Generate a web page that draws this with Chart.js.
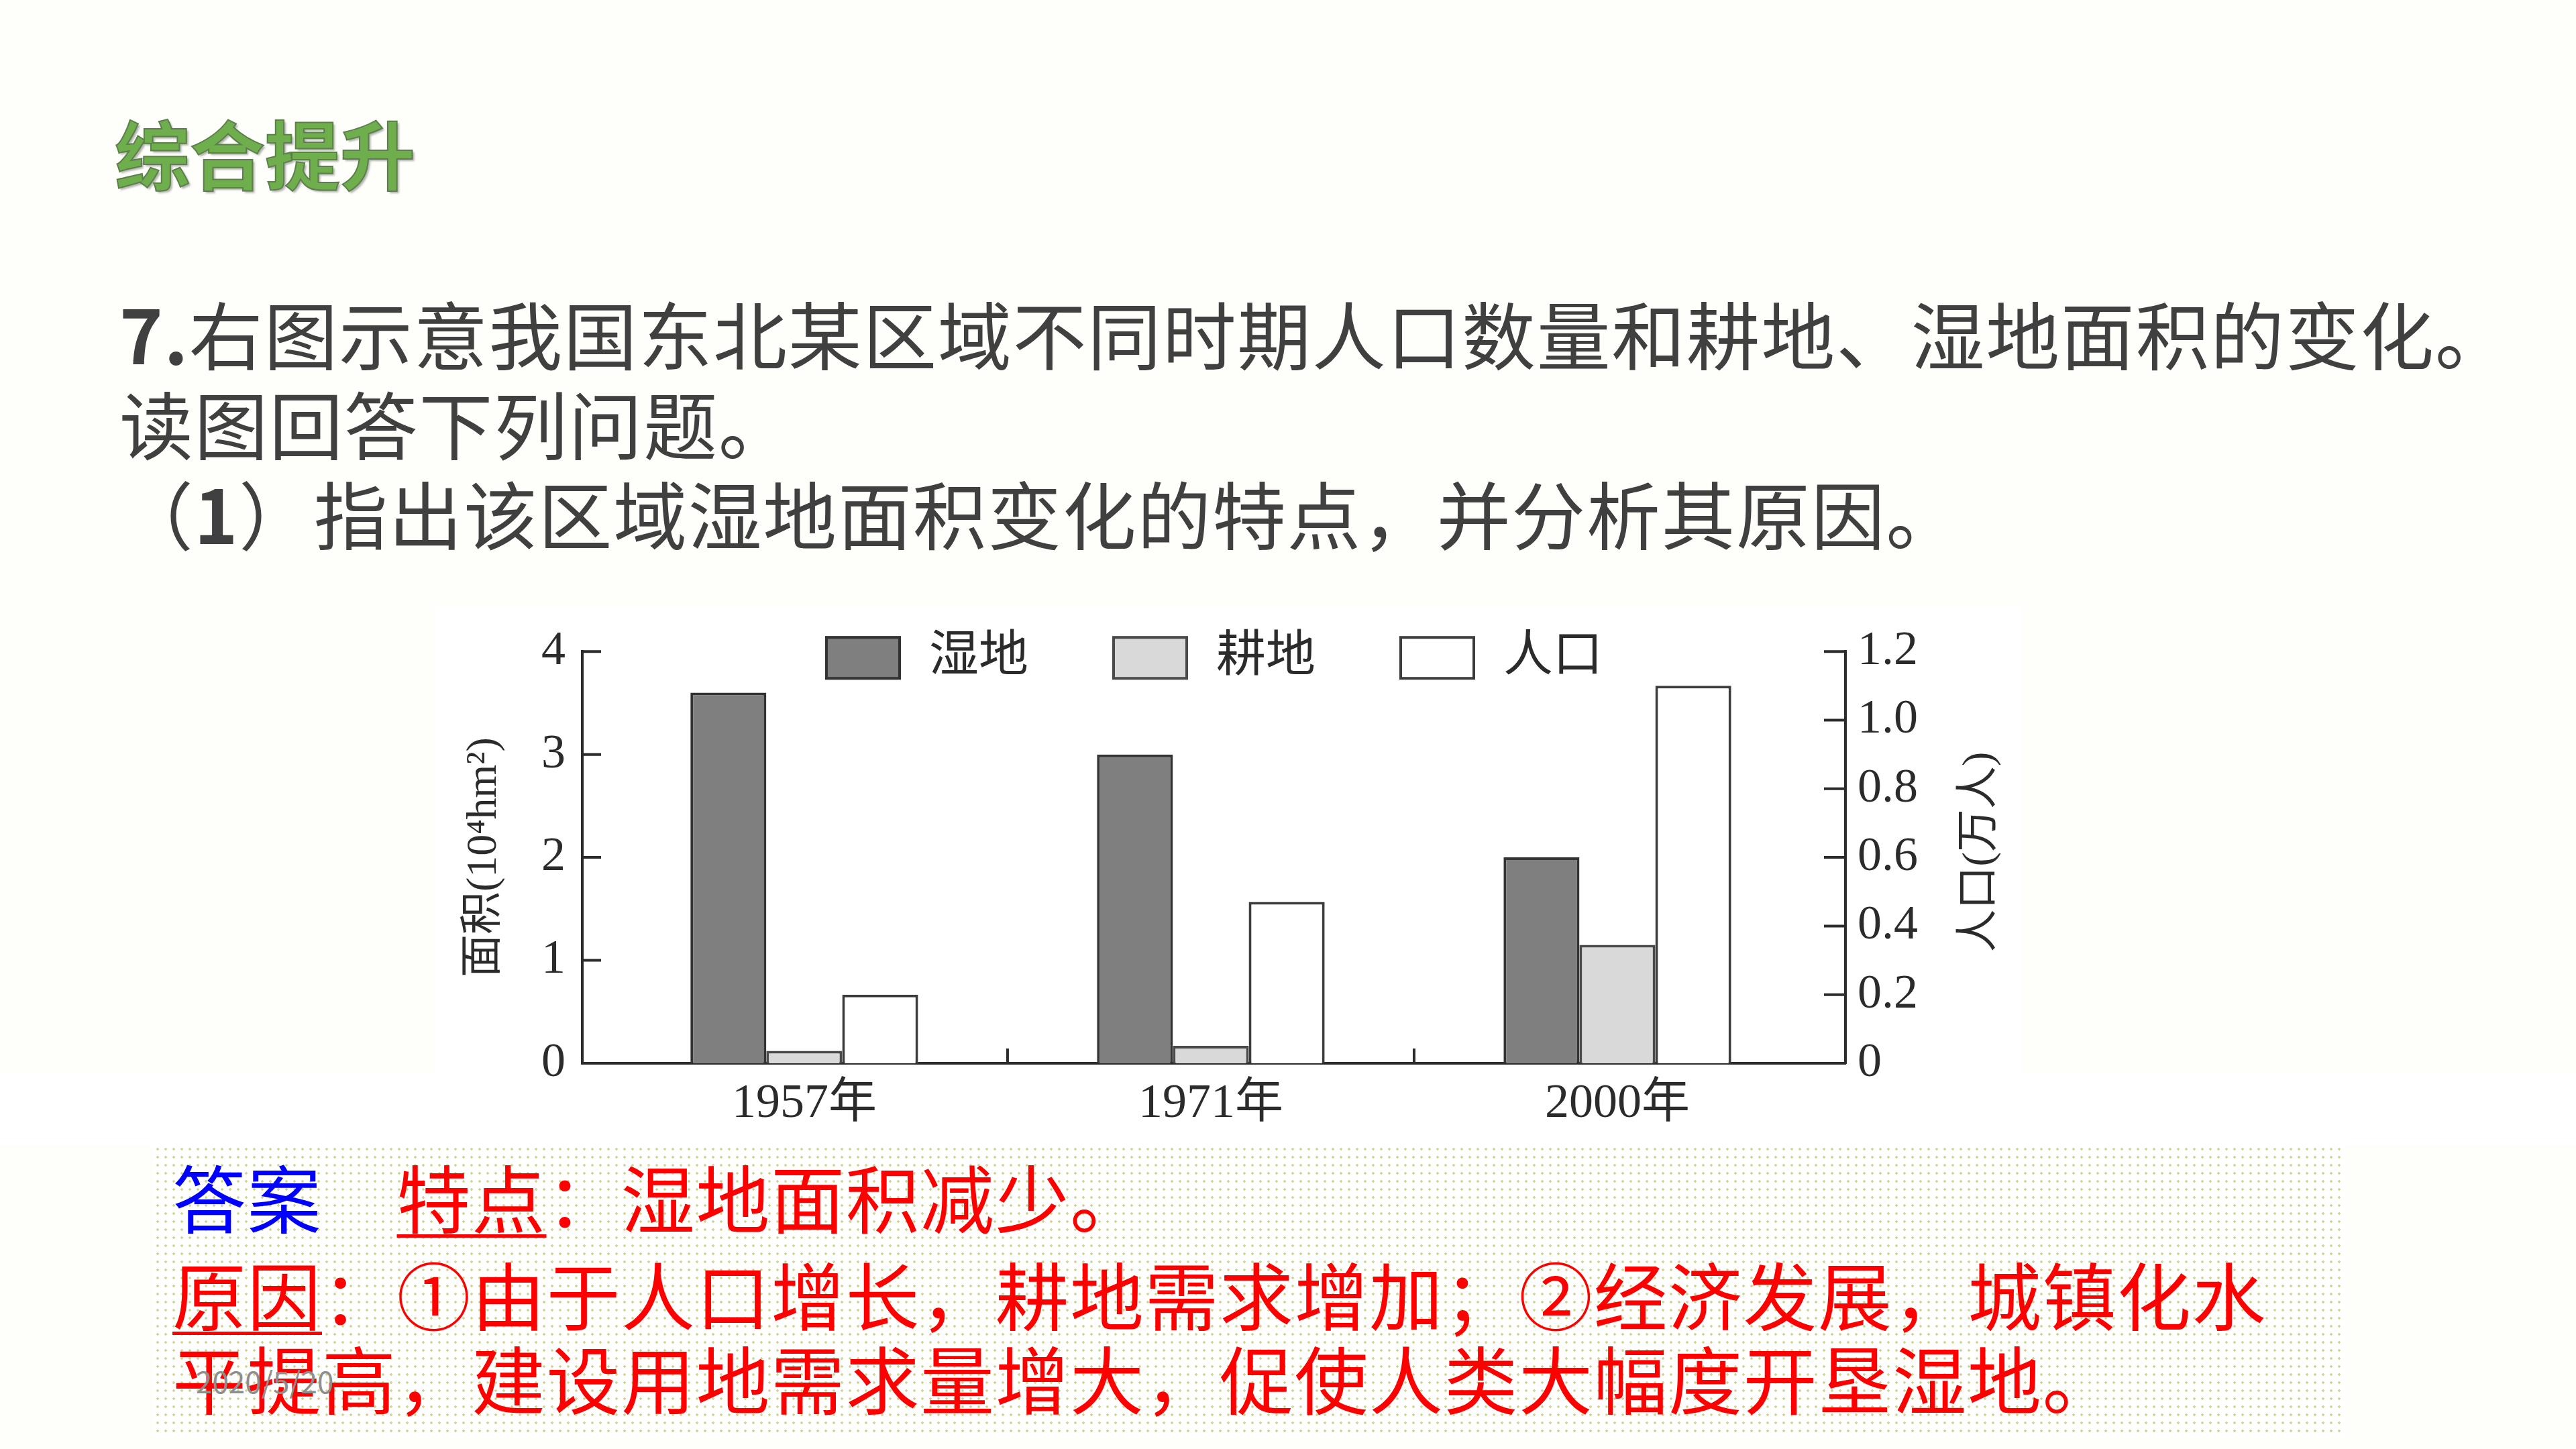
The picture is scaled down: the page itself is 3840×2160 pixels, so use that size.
<!DOCTYPE html>
<html lang="zh-CN">
<head>
<meta charset="utf-8">
<title>综合提升</title>
<script src="https://cdn.jsdelivr.net/npm/chart.js@4.4.1/dist/chart.umd.min.js"></script>
<style>
  html, body { margin: 0; padding: 0; }
  body {
    width: 3840px; height: 2160px; position: relative; overflow: hidden;
    background: #fefefa; font-family: "Noto Sans CJK SC", sans-serif;
  }
  .abs { position: absolute; white-space: nowrap; line-height: 1; }
  #heading {
    left: 171px; top: 170px; font-size: 112px; font-weight: 700; color: #6fae4c;
    -webkit-text-stroke: 2px #5d7f4c; text-shadow: 3px 3px 3px rgba(60,60,60,.4);
  }
  .q { left: 178px; font-size: 110px; color: #404040; letter-spacing: 1.6px; }
  #chartBox { left: 647px; top: 903px; width: 2366px; height: 697px; background: #fff; }
  #band { left: 0; top: 1600px; width: 3840px; height: 107px; background: #fff; }
  #answer {
    left: 229px; top: 1707px; width: 3267px; height: 436px; background-color: #fff;
    background-image: radial-gradient(#cfd58f 1.5px, transparent 2px);
    background-size: 12px 12px;
  }
  .a { left: 257px; font-size: 110px; color: #ff0000; letter-spacing: 1.5px; }
  .u { text-decoration: underline; text-decoration-thickness: 5px; text-underline-offset: 10px; }
  #date { left: 292px; top: 2036px; font-size: 44px; color: #8e8e8e; }
  #chart { position: absolute; left: 647px; top: 903px; }
</style>
</head>
<body>
<div class="abs" id="heading">综合提升</div>
<div class="abs q" style="top:440px"><b>7.</b>右图示意我国东北某区域不同时期人口数量和耕地、湿地面积的变化。</div>
<div class="abs q" style="top:574px">读图回答下列问题。</div>
<div class="abs q" style="top:708px">（<b>1</b>）指出该区域湿地面积变化的特点，并分析其原因。</div>

<div class="abs" id="chartBox"></div>
<div class="abs" id="band"></div>
<div class="abs" id="answer"></div>

<canvas id="chart" width="2366" height="797"></canvas>

<div class="abs a" style="top:1727px"><span style="color:#0000ff">答案</span>　<span class="u">特点</span>：湿地面积减少。</div>
<div class="abs a" style="top:1872px"><span class="u">原因</span>：①由于人口增长，耕地需求增加；②经济发展，城镇化水</div>
<div class="abs a" style="top:1997px">平提高，建设用地需求量增大，促使人类大幅度开垦湿地。</div>
<div class="abs" id="date">2020/5/20</div>

<script>
const years = ['1957年', '1971年', '2000年'];
const wetland = [3.6, 3.0, 2.0];       // 面积 10^4 hm²
const farmland = [0.12, 0.17, 1.15];   // 面积 10^4 hm²
const population = [0.2, 0.47, 1.1];   // 万人
const areaTicks = [0, 0.5, 1, 1.5, 2, 2.5, 3, 3.5, 4];
const popTicks = [0, 0.2, 0.4, 0.6, 0.8, 1.0, 1.2];
const areaTitle = '面积(10⁴hm²)';
const popTitle = '人口(万人)';

const serif = "'Liberation Serif', 'Noto Sans CJK SC', serif";
const ink = '#2b2b2b';

const decor = {
    id: 'decor',
    afterDraw(chart) {
        const { ctx, chartArea: ca, scales: { x, y, y1 } } = chart;
        ctx.save();

        // inward tick marks
        ctx.strokeStyle = ink;
        ctx.lineWidth = 4;
        ctx.beginPath();
        y.ticks.forEach(t => {
            const py = y.getPixelForValue(t.value);
            ctx.moveTo(ca.left, py);
            ctx.lineTo(ca.left + 28, py);
        });
        y1.ticks.forEach(t => {
            const py = y1.getPixelForValue(t.value);
            ctx.moveTo(ca.right, py);
            ctx.lineTo(ca.right - 32, py);
        });
        for (let i = 0; i < years.length - 1; i++) {
            const px = x.getPixelForValue(i + 0.5);
            ctx.moveTo(px, ca.bottom);
            ctx.lineTo(px, ca.bottom - 22);
        }
        ctx.stroke();

        // axis titles, both read bottom to top
        ctx.fillStyle = ink;
        ctx.font = `64px ${serif}`;
        ctx.textAlign = 'center';
        ctx.textBaseline = 'middle';
        const midY = (ca.top + ca.bottom) / 2;
        ctx.save();
        ctx.translate(ca.left - 146, midY);
        ctx.rotate(-Math.PI / 2);
        ctx.fillText(areaTitle, 0, 0);
        ctx.restore();
        ctx.save();
        ctx.translate(ca.right + 201, midY - 8);
        ctx.rotate(-Math.PI / 2);
        ctx.fillText(popTitle, 0, 0);
        ctx.restore();

        // legend inside the plot, centred
        ctx.font = `74px ${serif}`;
        const boxW = 113, boxH = 65, gap = 42, itemGap = 125;
        const items = chart.data.datasets.map(ds => ({
            label: ds.label, fill: ds.backgroundColor, stroke: ds.borderColor,
            w: ctx.measureText(ds.label).width
        }));
        const total = items.reduce((s, it) => s + boxW + gap + it.w, 0) + itemGap * (items.length - 1);
        let lx = (ca.left + ca.right) / 2 - total / 2;
        const ly = ca.top - 23;
        ctx.textAlign = 'left';
        items.forEach(it => {
            ctx.fillStyle = it.fill;
            ctx.fillRect(lx, ly, boxW, boxH);
            ctx.strokeStyle = it.stroke;
            ctx.lineWidth = 4;
            ctx.strokeRect(lx + 2, ly + 2, boxW - 4, boxH - 4);
            ctx.fillStyle = ink;
            ctx.fillText(it.label, lx + boxW + gap, ly + boxH / 2);
            lx += boxW + gap + it.w + itemGap;
        });

        ctx.restore();
    }
};

const toPoints = arr => arr.map((v, i) => ({ x: i, y: v }));

new Chart(document.getElementById('chart'), {
    type: 'bar',
    data: {
        datasets: [
            { label: '湿地', data: toPoints(wetland), yAxisID: 'y',
              backgroundColor: '#7f7f7f', borderColor: '#333333', borderWidth: 4 },
            { label: '耕地', data: toPoints(farmland), yAxisID: 'y',
              backgroundColor: '#d9d9d9', borderColor: '#4a4a4a', borderWidth: 4 },
            { label: '人口', data: toPoints(population), yAxisID: 'y1',
              backgroundColor: '#ffffff', borderColor: '#3c3c3c', borderWidth: 4 }
        ]
    },
    options: {
        responsive: false,
        animation: false,
        devicePixelRatio: 1,
        categoryPercentage: 0.56,
        barPercentage: 1,
        layout: { padding: { top: 63, left: 0, right: 0, bottom: 0 } },
        plugins: { legend: { display: false }, tooltip: { enabled: false } },
        scales: {
            x: {
                type: 'linear',
                offset: false,
                min: -0.546,
                max: 2.561,
                afterBuildTicks: s => { s.ticks = years.map((_, i) => ({ value: i })); },
                afterFit: s => { s.height = 115; },
                grid: { display: false, drawTicks: false },
                border: { display: true, color: ink, width: 4 },
                ticks: {
                    color: ink, padding: 18, font: { family: serif, size: 72 },
                    callback: v => years[Math.round(v)]
                }
            },
            y: {
                position: 'left',
                min: 0,
                max: 4,
                afterBuildTicks: s => { s.ticks = areaTicks.map(v => ({ value: v })); },
                afterFit: s => { s.width = 221; },
                grid: { display: false, drawTicks: false },
                border: { display: true, color: ink, width: 4 },
                ticks: {
                    color: ink, padding: 25, font: { family: serif, size: 72 },
                    callback: v => Number.isInteger(v) ? String(v) : ''
                }
            },
            y1: {
                position: 'right',
                min: 0,
                max: 1.2,
                afterBuildTicks: s => { s.ticks = popTicks.map(v => ({ value: v })); },
                afterFit: s => { s.width = 262; },
                grid: { display: false, drawTicks: false },
                border: { display: true, color: ink, width: 4 },
                ticks: {
                    color: ink, padding: 18, font: { family: serif, size: 72 },
                    callback: v => v === 0 ? '0' : v.toFixed(1)
                }
            }
        }
    },
    plugins: [decor]
});
</script>
</body>
</html>
